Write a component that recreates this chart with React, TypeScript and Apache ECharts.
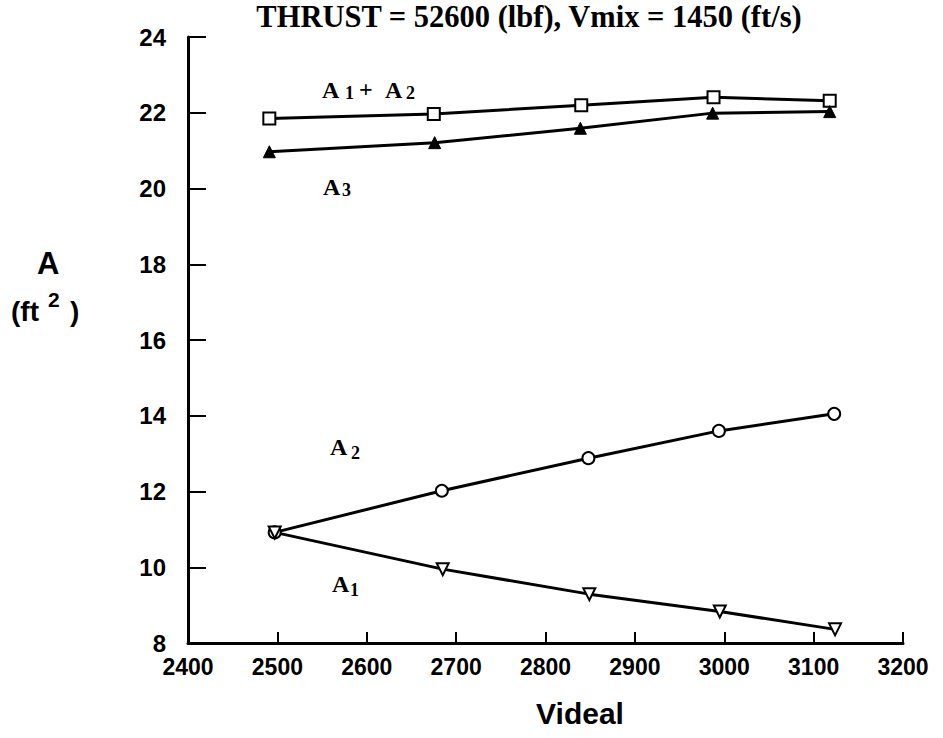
import React, { useEffect, useRef } from "react";
import * as echarts from "echarts";

const titleText = "THRUST = 52600 (lbf), Vmix = 1450 (ft/s)";
const xAxisName = "Videal";
const xTicks = [2400, 2500, 2600, 2700, 2800, 2900, 3000, 3100, 3200];
const yTicks = [8, 10, 12, 14, 16, 18, 20, 22, 24];

const sumX = [2491, 2675, 2840, 2988, 3118];
const sumY = [21.85, 21.97, 22.2, 22.41, 22.32];
const a3X = [2491, 2676, 2839, 2987, 3118];
const a3Y = [20.97, 21.21, 21.59, 21.99, 22.03];
const a2X = [2497, 2684, 2848, 2994, 3123];
const a2Y = [10.92, 12.02, 12.88, 13.6, 14.05];
const a1X = [2497, 2685, 2849, 2995, 3124];
const a1Y = [10.92, 9.95, 9.29, 8.83, 8.36];

const pair = (xs: number[], ys: number[]) => xs.map((x, i) => [x, ys[i]]);

const serif = "'Liberation Serif', 'Times New Roman', serif";
const sans = "'Liberation Sans', Arial, sans-serif";

function txt(x: number, y: number, text: string, size: number, font = serif, weight = "bold", align = "left") {
  return {
    type: "text",
    x,
    y,
    style: { text, fontSize: size, fontFamily: font, fontWeight: weight, fill: "#000", textAlign: align, textVerticalAlign: "top" },
  };
}

export default function App() {
  const ref = useRef<HTMLDivElement>(null);
  useEffect(() => {
    if (!ref.current) return;
    const chart = echarts.init(ref.current, null, { renderer: "svg" });
    const lineStyle = { color: "#000", width: 3 };
    const base = {
      type: "line",
      lineStyle,
      symbolSize: 12,
      itemStyle: { color: "#fff", borderColor: "#000", borderWidth: 2 },
      silent: true,
    };
    chart.setOption({
      animation: false,
      backgroundColor: "#fff",
      grid: { left: 188, right: 40, top: 37, bottom: 95, containLabel: false },
      xAxis: {
        type: "value",
        min: xTicks[0],
        max: xTicks[xTicks.length - 1],
        interval: 100,
        axisLine: { show: true, lineStyle: { color: "#000", width: 3 } },
        axisTick: { show: true, inside: true, length: 11, lineStyle: { color: "#000", width: 2 } },
        axisLabel: { color: "#000", fontSize: 23, fontWeight: "bold", fontFamily: sans, margin: 12, formatter: (v: number) => String(v) },
        splitLine: { show: false },
      },
      yAxis: {
        type: "value",
        min: yTicks[0],
        max: yTicks[yTicks.length - 1],
        interval: 2,
        axisLine: { show: true, lineStyle: { color: "#000", width: 3 } },
        axisTick: { show: true, inside: true, length: 18, lineStyle: { color: "#000", width: 2 } },
        axisLabel: { color: "#000", fontSize: 24, fontWeight: "bold", fontFamily: sans, margin: 22, formatter: (v: number) => String(v) },
        splitLine: { show: false },
      },
      graphic: [
        txt(529, 1, titleText, 30.5, serif, "bold", "center"),
        txt(580, 698, xAxisName, 30, sans, "bold", "center"),
        txt(37, 248, "A", 31, sans, "bold"),
        txt(11, 297, "(ft", 28, sans, "bold"),
        txt(48, 289, "2", 21, sans, "bold"),
        txt(70, 297, ")", 28, sans, "bold"),
        txt(322, 78, "A", 24),
        txt(345, 84, "1", 18),
        txt(359, 77, "+", 24),
        txt(385, 78, "A", 24),
        txt(406, 84, "2", 18),
        txt(323, 175, "A", 24),
        txt(342, 181, "3", 18),
        txt(330, 435, "A", 24),
        txt(351, 444, "2", 18),
        txt(332, 572, "A", 24),
        txt(350, 581, "1", 18),
      ],
      series: [
        { ...base, name: "A1+A2", symbol: "rect", data: pair(sumX, sumY) },
        { ...base, name: "A3", symbol: "triangle", itemStyle: { color: "#000", borderColor: "#000", borderWidth: 1 }, data: pair(a3X, a3Y) },
        { ...base, name: "A2", symbol: "circle", data: pair(a2X, a2Y) },
        { ...base, name: "A1", symbol: "triangle", symbolRotate: 180, data: pair(a1X, a1Y) },
      ],
    });
    return () => chart.dispose();
  }, []);
  return <div ref={ref} style={{ position: "fixed", left: 0, top: 0, width: 943, height: 738 }} />;
}
